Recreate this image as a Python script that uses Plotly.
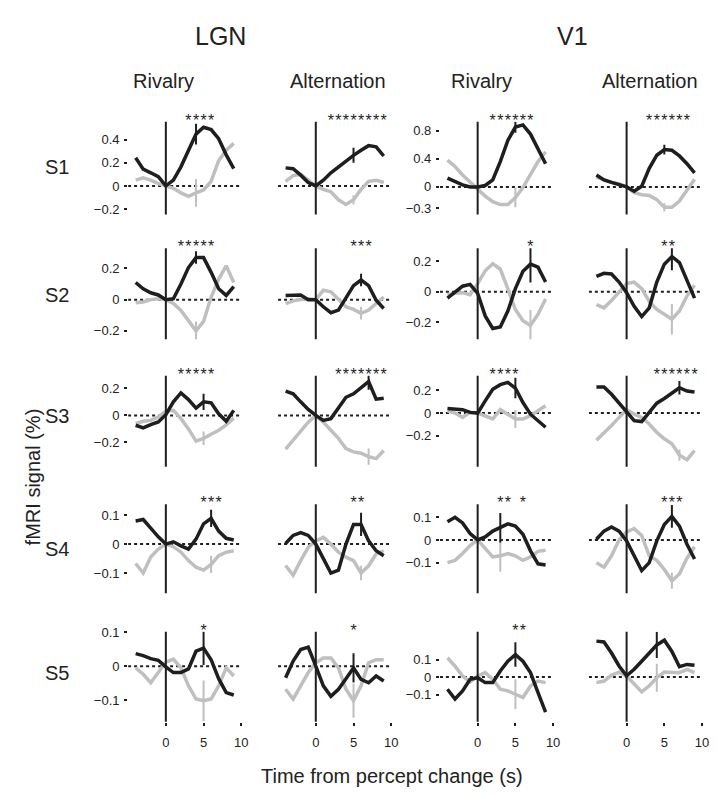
import plotly.graph_objects as go

# ---------------- data ----------------
TIME = list(range(-4, 10))
SUBJECTS = ["S1", "S2", "S3", "S4", "S5"]
REGIONS = ["LGN", "V1"]
CONDITIONS = ["Rivalry", "Alternation"]

S1_LGN_RIV_BLACK = [0.245, 0.146, 0.114, 0.08, 0.0, 0.05, 0.166, 0.31, 0.45, 0.51, 0.49, 0.41, 0.27, 0.15]
S1_LGN_RIV_GREY = [0.05, 0.07, 0.05, 0.02, 0.0, -0.02, -0.06, -0.09, -0.06, -0.035, 0.04, 0.22, 0.31, 0.37]
S1_LGN_ALT_BLACK = [0.157, 0.15, 0.094, 0.03, 0.0, 0.05, 0.114, 0.166, 0.21, 0.266, 0.31, 0.35, 0.34, 0.26]
S1_LGN_ALT_GREY = [0.04, 0.09, 0.10, 0.05, 0.0, -0.03, -0.05, -0.12, -0.16, -0.12, -0.03, 0.04, 0.05, 0.03]
S1_V1_RIV_BLACK = [0.126, 0.08, 0.03, 0.0, 0.0, 0.02, 0.10, 0.36, 0.66, 0.85, 0.88, 0.75, 0.54, 0.33]
S1_V1_RIV_GREY = [0.38, 0.29, 0.17, 0.065, -0.03, -0.13, -0.21, -0.25, -0.25, -0.15, -0.01, 0.17, 0.36, 0.5]
S1_V1_ALT_BLACK = [0.17, 0.10, 0.065, 0.03, 0.0, -0.06, 0.01, 0.265, 0.45, 0.53, 0.52, 0.44, 0.33, 0.20]
S1_V1_ALT_GREY = [0.14, 0.10, 0.065, 0.046, 0.0, -0.08, -0.11, -0.12, -0.18, -0.29, -0.29, -0.2, -0.04, 0.11]

S2_LGN_RIV_BLACK = [0.11, 0.07, 0.044, 0.03, 0.0, 0.006, 0.10, 0.206, 0.27, 0.27, 0.175, 0.07, 0.027, 0.084]
S2_LGN_RIV_GREY = [-0.02, -0.015, 0.0, 0.006, 0.0, -0.025, -0.07, -0.14, -0.20, -0.14, 0.017, 0.13, 0.217, 0.11]
S2_LGN_ALT_BLACK = [0.027, 0.027, 0.03, 0.0, 0.0, -0.046, -0.084, -0.067, 0.017, 0.09, 0.126, 0.09, -0.004, -0.057]
S2_LGN_ALT_GREY = [-0.025, -0.008, 0.0, 0.006, 0.0, 0.06, 0.05, 0.0, -0.046, -0.063, -0.088, -0.067, -0.025, 0.017]
S2_V1_RIV_BLACK = [-0.042, -0.006, 0.036, 0.048, -0.01, -0.158, -0.24, -0.23, -0.126, 0.02, 0.133, 0.18, 0.16, 0.063]
S2_V1_RIV_GREY = [-0.02, -0.01, -0.006, -0.02, 0.053, 0.137, 0.183, 0.147, 0.02, -0.116, -0.19, -0.22, -0.147, -0.048]
S2_V1_ALT_BLACK = [0.1, 0.12, 0.116, 0.063, -0.006, -0.095, -0.162, -0.105, 0.063, 0.18, 0.23, 0.19, 0.074, -0.042]
S2_V1_ALT_GREY = [-0.084, -0.105, -0.057, 0.0, 0.053, 0.063, 0.02, -0.063, -0.116, -0.147, -0.18, -0.126, -0.027, 0.042]

S3_LGN_RIV_BLACK = [-0.073, -0.093, -0.068, -0.049, 0.005, 0.1, 0.166, 0.117, 0.054, 0.1, 0.093, 0.012, -0.044, 0.037]
S3_LGN_RIV_GREY = [-0.06, -0.044, -0.037, -0.012, 0.03, 0.037, -0.024, -0.1, -0.19, -0.17, -0.14, -0.11, -0.07, -0.02]
S3_LGN_ALT_BLACK = [0.18, 0.16, 0.1, 0.044, 0.0, -0.037, -0.024, 0.05, 0.134, 0.16, 0.207, 0.25, 0.12, 0.127]
S3_LGN_ALT_GREY = [-0.25, -0.18, -0.12, -0.05, 0.0, -0.05, -0.11, -0.17, -0.246, -0.27, -0.28, -0.305, -0.32, -0.26]
S3_V1_RIV_BLACK = [0.04, 0.035, 0.03, 0.006, 0.0, 0.107, 0.21, 0.25, 0.27, 0.22, 0.093, -0.01, -0.067, -0.125]
S3_V1_RIV_GREY = [0.02, 0.0, -0.038, 0.006, 0.0, -0.03, -0.052, 0.03, -0.009, -0.052, -0.052, -0.023, 0.02, 0.064]
S3_V1_ALT_BLACK = [0.23, 0.23, 0.165, 0.087, 0.012, -0.067, -0.075, 0.006, 0.087, 0.128, 0.174, 0.223, 0.194, 0.186]
S3_V1_ALT_GREY = [-0.24, -0.18, -0.11, -0.038, 0.03, -0.009, -0.038, -0.096, -0.17, -0.226, -0.27, -0.37, -0.41, -0.33]

S4_LGN_RIV_BLACK = [0.08, 0.085, 0.055, 0.025, 0.0, 0.008, -0.006, -0.017, 0.017, 0.07, 0.089, 0.045, 0.02, 0.014]
S4_LGN_RIV_GREY = [-0.067, -0.10, -0.045, -0.017, 0.0, -0.009, -0.028, -0.057, -0.08, -0.09, -0.07, -0.04, -0.028, -0.023]
S4_LGN_ALT_BLACK = [0.002, 0.03, 0.04, 0.03, 0.0, -0.05, -0.10, -0.09, 0.0, 0.068, 0.068, 0.011, -0.023, -0.04]
S4_LGN_ALT_GREY = [-0.074, -0.108, -0.057, -0.011, 0.011, 0.023, 0.0, -0.028, -0.045, -0.057, -0.1, -0.075, -0.034, -0.023]
S4_V1_RIV_BLACK = [0.08, 0.1, 0.075, 0.028, 0.0, 0.013, 0.039, 0.054, 0.071, 0.061, 0.025, -0.048, -0.105, -0.11]
S4_V1_RIV_GREY = [-0.1, -0.09, -0.06, -0.025, 0.0, -0.035, -0.075, -0.07, -0.06, -0.07, -0.09, -0.075, -0.05, -0.045]
S4_V1_ALT_BLACK = [0.003, 0.039, 0.057, 0.039, -0.004, -0.07, -0.135, -0.1, -0.004, 0.068, 0.104, 0.061, -0.019, -0.084]
S4_V1_ALT_GREY = [-0.1, -0.12, -0.07, 0.0, 0.035, 0.05, 0.02, -0.07, -0.09, -0.13, -0.18, -0.15, -0.08, -0.03]

S5_LGN_RIV_BLACK = [0.037, 0.031, 0.022, 0.017, -0.002, -0.019, -0.019, -0.008, 0.044, 0.053, 0.019, -0.037, -0.078, -0.085]
S5_LGN_RIV_GREY = [-0.005, -0.024, -0.049, -0.019, 0.012, 0.021, -0.005, -0.058, -0.097, -0.102, -0.097, -0.058, -0.005, -0.029]
S5_LGN_ALT_BLACK = [-0.034, 0.015, 0.049, 0.056, 0.0, -0.058, -0.089, -0.068, -0.037, -0.005, -0.039, -0.049, -0.029, -0.044]
S5_LGN_ALT_GREY = [-0.068, -0.097, -0.058, -0.019, 0.01, 0.024, 0.024, -0.005, -0.068, -0.102, -0.058, 0.01, 0.019, 0.019]
S5_V1_RIV_BLACK = [-0.07, -0.126, -0.079, -0.013, -0.004, -0.032, -0.032, 0.034, 0.09, 0.128, 0.09, 0.025, -0.089, -0.2]
S5_V1_RIV_GREY = [0.11, 0.062, 0.006, -0.028, 0.006, 0.025, -0.013, -0.07, -0.079, -0.098, -0.117, -0.051, -0.023, -0.032]
S5_V1_ALT_BLACK = [0.205, 0.2, 0.137, 0.063, 0.007, 0.044, 0.09, 0.137, 0.183, 0.21, 0.146, 0.059, 0.072, 0.067]
S5_V1_ALT_GREY = [-0.032, -0.023, 0.01, 0.028, 0.006, -0.04, -0.085, -0.05, -0.004, 0.028, 0.025, 0.025, 0.043, 0.025]

# error bars (time, half-length) and significant time points, panel order: row by row, 4 columns
ERR_TIME = [4, 5, 5, 5,  4, 6, 7, 6,  5, 7, 5, 7,  6, 6, 3, 6,  5, 5, 5, 4]
BLACK_ERR_HALF = [0.09, 0.065, 0.08, 0.07, 0.04, 0.04, 0.12, 0.09, 0.06, 0.06, 0.09, 0.06,
                  0.03, 0.04, 0.065, 0.05, 0.05, 0.043, 0.07, 0.075]
GREY_ERR_HALF = [0.12, 0.04, 0.14, 0.06, 0.06, 0.04, 0.1, 0.1, 0.05, 0.06, 0.08, 0.05,
                 0.03, 0.025, 0.07, 0.035, 0.06, 0.05, 0.085, 0.08]
STAR_TIMES = [[3, 4, 5, 6], [2, 3, 4, 5, 6, 7, 8, 9], [2, 3, 4, 5, 6, 7], [3, 4, 5, 6, 7, 8],
              [2, 3, 4, 5, 6], [5, 6, 7], [7], [5, 6],
              [2, 3, 4, 5, 6], [3, 4, 5, 6, 7, 8, 9], [2, 3, 4, 5], [4, 5, 6, 7, 8, 9],
              [5, 6, 7], [5, 6], [3, 4, 6], [5, 6, 7],
              [5], [5], [5, 6], []]

Y_TICKS = [[[-0.2, 0, 0.2, 0.4], [-0.3, 0, 0.4, 0.8]],
           [[-0.2, 0, 0.2], [-0.2, 0, 0.2]],
           [[-0.2, 0, 0.2], [-0.2, 0, 0.2]],
           [[-0.1, 0, 0.1], [-0.1, 0, 0.1]],
           [[-0.1, 0, 0.1], [-0.1, 0, 0.1]]]
X_TICKS = [0, 5, 10]

PANEL_DATA = [
    [(S1_LGN_RIV_BLACK, S1_LGN_RIV_GREY), (S1_LGN_ALT_BLACK, S1_LGN_ALT_GREY),
     (S1_V1_RIV_BLACK, S1_V1_RIV_GREY), (S1_V1_ALT_BLACK, S1_V1_ALT_GREY)],
    [(S2_LGN_RIV_BLACK, S2_LGN_RIV_GREY), (S2_LGN_ALT_BLACK, S2_LGN_ALT_GREY),
     (S2_V1_RIV_BLACK, S2_V1_RIV_GREY), (S2_V1_ALT_BLACK, S2_V1_ALT_GREY)],
    [(S3_LGN_RIV_BLACK, S3_LGN_RIV_GREY), (S3_LGN_ALT_BLACK, S3_LGN_ALT_GREY),
     (S3_V1_RIV_BLACK, S3_V1_RIV_GREY), (S3_V1_ALT_BLACK, S3_V1_ALT_GREY)],
    [(S4_LGN_RIV_BLACK, S4_LGN_RIV_GREY), (S4_LGN_ALT_BLACK, S4_LGN_ALT_GREY),
     (S4_V1_RIV_BLACK, S4_V1_RIV_GREY), (S4_V1_ALT_BLACK, S4_V1_ALT_GREY)],
    [(S5_LGN_RIV_BLACK, S5_LGN_RIV_GREY), (S5_LGN_ALT_BLACK, S5_LGN_ALT_GREY),
     (S5_V1_RIV_BLACK, S5_V1_RIV_GREY), (S5_V1_ALT_BLACK, S5_V1_ALT_GREY)],
]

# ---------------- layout constants ----------------
W, H = 718, 795
FONT = "Arial, 'Liberation Sans', Helvetica, sans-serif"
BLACK = "#1e1e1e"
GREY = "#bfbfbf"
COL_T0_PX = [167, 318, 481, 631]
PX_PER_S = 7.6
X_RANGE = [-5, 10.3]
ROW_PX = [(116, 210), (244, 336), (373, 465), (503, 593), (632, 723)]
Y_RANGES = [[[-0.249, 0.558], [-0.393, 0.926]],
            [[-0.254, 0.330], [-0.310, 0.284]],
            [[-0.380, 0.293], [-0.472, 0.328]],
            [[-0.170, 0.1375], [-0.235, 0.157]],
            [[-0.164, 0.101], [-0.256, 0.258]]]
ROW_LABEL_Y = [162, 291, 414, 548, 674]


def px_x(p):
    return p / W


def px_y(p):
    return 1 - p / H


fig = go.Figure()
shapes = []
annotations = []
layout_axes = {}

k = 0
for r in range(5):
    for c in range(4):
        k += 1
        sfx = "" if k == 1 else str(k)
        xa = f"x{sfx}"
        ya = f"y{sfx}"
        region = c // 2
        black, grey = PANEL_DATA[r][c]
        yr = Y_RANGES[r][region]
        t0 = COL_T0_PX[c]
        xd = [px_x(t0 + X_RANGE[0] * PX_PER_S), px_x(t0 + X_RANGE[1] * PX_PER_S)]
        yd = [px_y(ROW_PX[r][1]), px_y(ROW_PX[r][0])]

        fig.add_trace(go.Scatter(x=TIME, y=grey, mode="lines", xaxis=xa, yaxis=ya,
                                 line=dict(color=GREY, width=3.5), showlegend=False,
                                 hoverinfo="skip"))
        et = ERR_TIME[k - 1]
        gi = TIME.index(et)
        gv = grey[gi]
        gh = GREY_ERR_HALF[k - 1]
        fig.add_trace(go.Scatter(x=[et, et], y=[gv - gh, gv + gh], mode="lines",
                                 xaxis=xa, yaxis=ya, line=dict(color=GREY, width=2),
                                 showlegend=False, hoverinfo="skip"))
        fig.add_trace(go.Scatter(x=TIME, y=black, mode="lines", xaxis=xa, yaxis=ya,
                                 line=dict(color=BLACK, width=3.5), showlegend=False,
                                 hoverinfo="skip"))
        bv = black[gi]
        bh = BLACK_ERR_HALF[k - 1]
        fig.add_trace(go.Scatter(x=[et, et], y=[bv - bh, bv + bh], mode="lines",
                                 xaxis=xa, yaxis=ya, line=dict(color=BLACK, width=2),
                                 showlegend=False, hoverinfo="skip"))
        st = STAR_TIMES[k - 1]
        if st:
            fig.add_trace(go.Scatter(x=st, y=[yr[1]] * len(st), mode="text",
                                     text=["*"] * len(st), textposition="middle center",
                                     textfont=dict(family=FONT, size=16, color=BLACK),
                                     xaxis=xa, yaxis=ya, cliponaxis=False,
                                     showlegend=False, hoverinfo="skip"))

        shapes.append(dict(type="line", xref=xa, yref=ya, x0=-5, x1=10, y0=0, y1=0,
                           line=dict(color=BLACK, width=2, dash="dot"), layer="below"))
        shapes.append(dict(type="line", xref=xa, yref=f"{ya} domain", x0=0, x1=0, y0=0, y1=1,
                           line=dict(color=BLACK, width=2)))

        bottom = (r == 4)
        layout_axes[f"xaxis{sfx}"] = dict(
            domain=xd, range=X_RANGE, anchor=ya, showgrid=False, zeroline=False,
            showline=False, tickvals=X_TICKS, ticks="outside" if bottom else "",
            ticklen=3, tickwidth=2, tickcolor=BLACK, showticklabels=bottom,
            ticklabelstandoff=6,
            tickfont=dict(family=FONT, size=13, color="#222"))
        left = (c % 2 == 0)
        layout_axes[f"yaxis{sfx}"] = dict(
            domain=yd, range=yr, anchor=xa, showgrid=False, zeroline=False,
            showline=False, tickvals=Y_TICKS[r][region] if left else [],
            ticks="outside" if left else "", ticklen=3, tickwidth=2, tickcolor=BLACK,
            showticklabels=left, ticklabelstandoff=2,
            tickfont=dict(family=FONT, size=13, color="#222"))


def add_text(txt, xp, yp, size, angle=0):
    annotations.append(dict(text=txt, x=px_x(xp), y=px_y(yp), xref="paper", yref="paper",
                            showarrow=False, xanchor="center", yanchor="middle",
                            textangle=angle, font=dict(family=FONT, size=size, color="#222")))


add_text(REGIONS[0], 222, 29, 25)
add_text(REGIONS[1], 577, 29, 25)
for xp, cond in zip([165, 340, 485, 655], CONDITIONS * 2):
    add_text(cond, xp, 75, 20)
for yp, s in zip(ROW_LABEL_Y, SUBJECTS):
    add_text(s, 57, yp, 20)
add_text("fMRI signal (%)", 33, 475, 20, -90)
add_text("Time from percept change (s)", 395, 778, 20)

fig.update_layout(width=W, height=H, margin=dict(l=0, r=0, t=0, b=0),
                  plot_bgcolor="white", paper_bgcolor="white",
                  shapes=shapes, annotations=annotations, showlegend=False,
                  font=dict(family=FONT), **layout_axes)

fig.write_html("out.html")
